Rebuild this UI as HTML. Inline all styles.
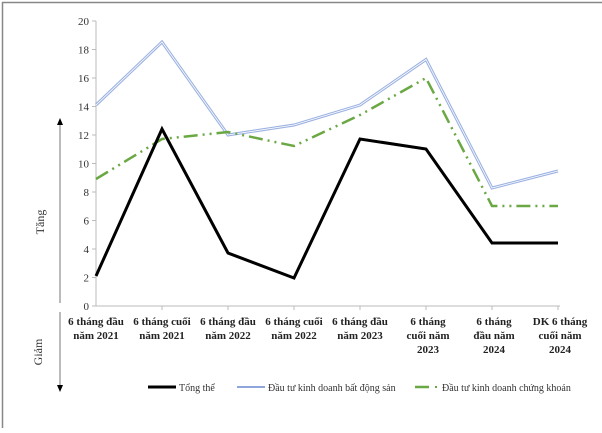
<!DOCTYPE html>
<html><head><meta charset="utf-8"><style>
body{margin:0;background:#fff}
svg text{font-family:"Liberation Serif",serif}
</style></head><body>
<svg width="602" height="428" xmlns="http://www.w3.org/2000/svg">
<rect x="0" y="0" width="602" height="428" fill="#fff"/>
<line x1="2" y1="2.5" x2="602" y2="2.5" stroke="#888" stroke-width="1.5"/>
<line x1="2.5" y1="2" x2="2.5" y2="428" stroke="#888" stroke-width="1.5"/>
<line x1="96" y1="21" x2="96" y2="306" stroke="#bbb" stroke-width="1"/>
<line x1="96" y1="306" x2="560" y2="306" stroke="#bbb" stroke-width="1"/>
<g stroke="#bbb">
<line x1="92" y1="21" x2="96" y2="21"/><line x1="92" y1="49.5" x2="96" y2="49.5"/><line x1="92" y1="78" x2="96" y2="78"/><line x1="92" y1="106.5" x2="96" y2="106.5"/><line x1="92" y1="135" x2="96" y2="135"/><line x1="92" y1="163.5" x2="96" y2="163.5"/><line x1="92" y1="192" x2="96" y2="192"/><line x1="92" y1="220.5" x2="96" y2="220.5"/><line x1="92" y1="249" x2="96" y2="249"/><line x1="92" y1="277.5" x2="96" y2="277.5"/><line x1="92" y1="306" x2="96" y2="306"/>
<line x1="162" y1="306" x2="162" y2="310"/><line x1="228" y1="306" x2="228" y2="310"/><line x1="294" y1="306" x2="294" y2="310"/><line x1="360" y1="306" x2="360" y2="310"/><line x1="426" y1="306" x2="426" y2="310"/><line x1="492" y1="306" x2="492" y2="310"/><line x1="558" y1="306" x2="558" y2="310"/>
</g>
<g font-size="11" fill="#333" text-anchor="end">
<text x="89" y="25">20</text><text x="89" y="53.5">18</text><text x="89" y="82">16</text><text x="89" y="110.5">14</text><text x="89" y="139">12</text><text x="89" y="167.5">10</text><text x="89" y="196">8</text><text x="89" y="224.5">6</text><text x="89" y="253">4</text><text x="89" y="281.5">2</text><text x="89" y="310">0</text>
</g>
<g font-size="11" font-weight="bold" fill="#222" text-anchor="middle">
<text x="96" y="325">6 tháng đầu</text><text x="96" y="339">năm 2021</text>
<text x="162" y="325">6 tháng cuối</text><text x="162" y="339">năm 2021</text>
<text x="228" y="325">6 tháng đầu</text><text x="228" y="339">năm 2022</text>
<text x="294" y="325">6 tháng cuối</text><text x="294" y="339">năm 2022</text>
<text x="360" y="325">6 tháng đầu</text><text x="360" y="339">năm 2023</text>
<text x="428" y="325">6 tháng</text><text x="428" y="339">cuối năm</text><text x="428" y="353">2023</text>
<text x="494" y="325">6 tháng</text><text x="494" y="339">đầu năm</text><text x="494" y="353">2024</text>
<text x="560" y="325">DK 6 tháng</text><text x="560" y="339">cuối năm</text><text x="560" y="353">2024</text>
</g>
<line x1="60" y1="124" x2="60" y2="303" stroke="#777" stroke-width="1"/>
<polygon points="57,125 63,125 60,118" fill="#000"/>
<line x1="60" y1="312" x2="60" y2="386" stroke="#777" stroke-width="1"/>
<polygon points="57,385 63,385 60,392" fill="#000"/>
<text transform="translate(44,222) rotate(-90)" font-size="12" fill="#333" text-anchor="middle">Tăng</text>
<text transform="translate(42,352) rotate(-90)" font-size="12" fill="#333" text-anchor="middle">Giảm</text>
<polyline fill="none" stroke="#9cb2e2" stroke-width="3" points="96,105 162,42 228,135 294,125 360,105 426,59.5 492,188 558,171"/>
<polyline fill="none" stroke="#fff" stroke-width="0.8" points="96,105 162,42 228,135 294,125 360,105 426,59.5 492,188 558,171"/>
<polyline fill="none" stroke="#6aa843" stroke-width="2.5" stroke-dasharray="14,5,2,5,2,5" points="96,179 162,139 228,132 294,146 360,115 426,78 492,206 558,206"/>
<polyline fill="none" stroke="#000" stroke-width="3" points="96,276 162,129 228,253 294,278 360,139 426,149 492,243 558,243"/>
<line x1="148" y1="387" x2="176" y2="387" stroke="#000" stroke-width="3"/>
<text x="179" y="391" font-size="10" fill="#333">Tổng thể</text>
<line x1="237" y1="387" x2="265" y2="387" stroke="#8ea6dc" stroke-width="2"/>
<text x="268" y="391" font-size="10" fill="#333">Đầu tư kinh  doanh bất động sản</text>
<line x1="415" y1="387" x2="429" y2="387" stroke="#6aa843" stroke-width="2.5"/>
<line x1="435" y1="387" x2="437" y2="387" stroke="#6aa843" stroke-width="2"/>
<text x="442" y="391" font-size="10" fill="#333">Đầu tư kinh  doanh chứng khoán</text>
</svg>
</body></html>
